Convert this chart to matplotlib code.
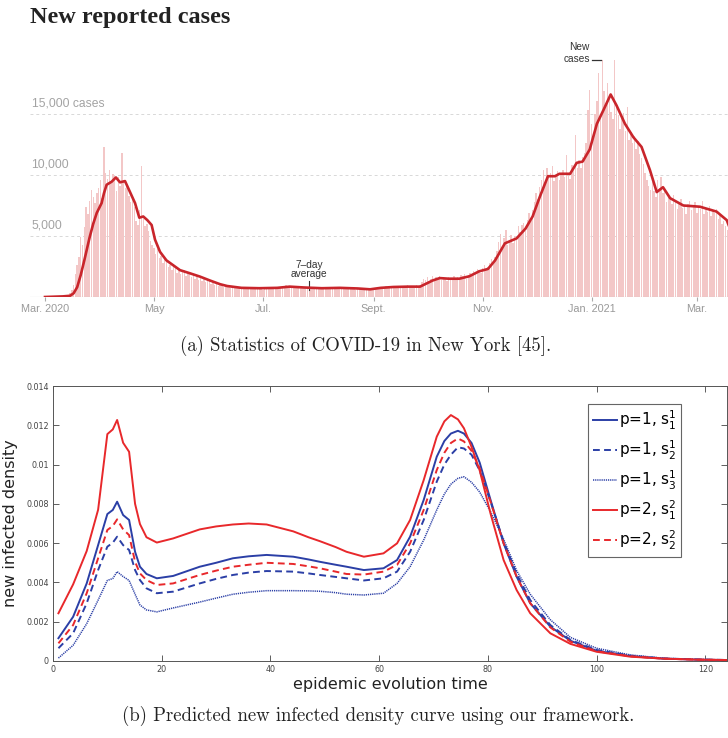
import numpy as np
import pandas as pd
import matplotlib
matplotlib.use("Agg")
import matplotlib.pyplot as plt

# ---------------- panel (a): NYT new reported cases (thousands) ----------------
start = pd.Timestamp("2020-03-01")

daily_k = [
    0.0, 0.0, 0.0, 0.0, 0.0, 0.01, 0.01, 0.02, 0.03, 0.05,
    0.08, 0.1, 0.15, 0.2, 0.35, 0.6, 1.0, 1.9, 2.6, 3.3,
    4.9, 4.3, 5.7, 7.4, 6.8, 7.9, 8.8, 8.2, 7.7, 8.5,
    8.9, 9.6, 8.1, 12.3, 10.2, 9.7, 10.4, 9.5, 10.1, 9.9,
    8.7, 9.8, 9.1, 11.8, 9.6, 8.9, 9.2, 8.3, 7.8, 8.1,
    7.4, 6.2, 5.9, 7.1, 10.7, 6.4, 5.8, 6.0, 5.4, 4.6,
    4.3, 4.0, 3.5, 3.9, 3.2, 3.4, 2.8, 3.1, 2.9, 2.5,
    2.6, 2.2, 2.7, 2.4, 2.0, 2.3, 1.9, 2.1, 2.2, 1.7,
    1.9, 2.0, 1.6, 1.8, 1.5, 1.7, 1.4, 1.6, 1.3, 1.5,
    1.2, 1.4, 1.3, 1.1, 1.2, 1.0, 1.1, 0.9, 1.0, 0.95,
    0.85, 0.9, 0.8, 0.85, 0.75, 0.8, 0.7, 0.85, 0.75, 0.7,
    0.8, 0.7, 0.75, 0.65, 0.8, 0.7, 0.75, 0.7, 0.65, 0.8,
    0.7, 0.75, 0.6, 0.8, 0.7, 0.75, 0.65, 0.8, 0.75, 0.7,
    0.8, 0.85, 0.75, 0.9, 0.8, 0.95, 0.85, 0.9, 0.8, 0.85,
    0.8, 0.75, 0.85, 0.7, 0.8, 0.75, 0.7, 0.8, 0.75, 0.7,
    0.75, 0.7, 0.65, 0.8, 0.7, 0.75, 0.7, 0.65, 0.75, 0.7,
    0.8, 0.7, 0.75, 0.7, 0.8, 0.75, 0.7, 0.8, 0.7, 0.75,
    0.7, 0.65, 0.75, 0.7, 0.6, 0.7, 0.65, 0.6, 0.7, 0.6,
    0.65, 0.6, 0.55, 0.7, 0.65, 0.7, 0.75, 0.8, 0.7, 0.85,
    0.8, 0.9, 0.75, 0.85, 0.9, 0.8, 0.85, 0.9, 0.8, 0.85,
    0.9, 0.85, 0.8, 0.95, 0.85, 0.9, 0.8, 0.85, 0.95, 0.9,
    1.0, 1.2, 1.5, 1.4, 1.6, 1.3, 1.5, 1.7, 1.4, 1.6,
    1.5, 1.7, 1.4, 1.6, 1.5, 1.3, 1.6, 1.5, 1.4, 1.7,
    1.5, 1.6, 1.4, 1.8, 1.7, 1.9, 1.5, 1.8, 2.0, 1.7,
    2.1, 1.9, 2.3, 2.2, 2.0, 2.4, 2.6, 2.2, 2.5, 2.8,
    3.1, 2.7, 3.3, 3.8, 4.5, 5.2, 4.1, 4.8, 5.5, 4.3,
    4.6, 5.1, 4.4, 5.0, 4.7, 5.8, 5.3, 5.9, 6.1, 5.4,
    6.3, 6.9, 6.2, 7.1, 7.8, 8.5, 8.0, 9.0, 9.6, 10.4,
    9.2, 10.6, 9.8, 10.2, 10.7, 9.5, 9.9, 10.3, 9.6, 10.1,
    10.4, 9.8, 11.6, 10.2, 9.7, 10.8, 10.5, 13.3, 10.6, 11.2,
    10.6, 11.5, 11.8, 12.6, 15.3, 17.0, 14.2, 13.0, 15.0, 16.1,
    18.4, 14.8, 19.4, 16.9, 15.8, 17.5, 16.4, 15.2, 14.6, 19.4,
    15.8, 14.9, 13.8, 14.7, 15.1, 13.6, 15.6, 12.9, 13.5, 12.6,
    13.2, 12.1, 12.8, 11.7, 11.4, 10.9, 10.2, 9.6, 9.1, 8.8,
    9.4, 8.7, 8.2, 9.6, 8.9, 9.8, 8.5, 8.9, 7.8, 8.3,
    8.1, 7.6, 8.4, 7.9, 7.2, 7.7, 8.0, 7.3, 7.5, 6.8,
    7.6, 7.9, 7.1, 7.4, 7.8, 6.9, 7.5, 7.2, 7.9, 6.8,
    7.3, 7.0, 7.5, 6.6, 7.1, 6.9, 7.2, 6.4, 6.8, 6.0,
    6.2, 5.8, 5.5,
]

avg_day = [0, 10, 14, 16, 18, 20, 22, 25, 27, 29, 31.7, 33, 34.5, 37.3, 39.7, 42,
           44.8, 47.6, 50.4, 52.8, 55, 57.3, 59.7, 61.6, 64.4, 68, 71.8, 75.6, 81,
           86.8, 92.4, 98, 102, 110, 120, 130, 137, 145, 155, 165, 175, 182, 188,
           195, 203, 210, 217, 221, 226, 232, 237.6, 243, 248, 252, 257.5, 264, 269,
           273, 277, 281.6, 285.5, 288, 294, 297.7, 301, 305, 309, 312.6, 316.7,
           320, 324.7, 329.4, 334, 338.7, 342.5, 346, 350, 357.4, 366.7, 376,
           381.7, 383]
avg_k = [0.0, 0.05, 0.1, 0.3, 0.8, 1.8, 3.0, 4.9, 6.0, 6.9, 7.7, 8.5, 9.2, 9.45, 9.8,
         9.4, 9.5, 8.6, 7.7, 6.5, 6.6, 6.3, 5.9, 4.7, 3.7, 3.0, 2.6, 2.2, 1.95,
         1.67, 1.35, 1.05, 0.9, 0.75, 0.72, 0.75, 0.85, 0.78, 0.72, 0.75, 0.7,
         0.63, 0.75, 0.82, 0.85, 0.85, 1.35, 1.55, 1.5, 1.5, 1.7, 2.1, 2.3, 3.0,
         4.4, 4.8, 5.6, 6.6, 8.2, 9.9, 9.9, 10.1, 10.1, 11.0, 11.1, 12.1, 14.2,
         15.3, 16.6, 15.7, 14.2, 13.1, 12.3, 10.4, 8.6, 9.0, 8.1, 7.5, 7.4, 7.0,
         6.3, 5.8]

tick_dates = ["2020-03-01", "2020-05-01", "2020-07-01", "2020-09-01",
              "2020-11-01", "2021-01-01", "2021-03-01"]
tick_labels = ["Mar. 2020", "May", "Jul.", "Sept.", "Nov.", "Jan. 2021", "Mar."]
grid_k = [5, 10, 15]
grid_labels = ["5,000", "10,000", "15,000 cases"]

# ---------------- panel (b): predicted new infected density ----------------
t = [1, 3.7, 6.2, 8.3, 10, 11, 11.8, 12.9, 14, 15.1, 16, 17.2, 19.1, 22.1, 27,
     30, 33.1, 36, 39.3, 44.2, 47, 49.1, 52, 54, 57.2, 60.8, 63.3, 65.7, 68.2,
     70.6, 72, 73.2, 74.5, 75.6, 77, 78.5, 80.5, 82.9, 85.3, 87.8, 91.5, 95.2,
     100, 106.2, 112.3, 118.4, 124]
p1_s1 = [0.00116, 0.00225, 0.00395, 0.0059, 0.00748, 0.00769, 0.00811, 0.00743,
         0.00718, 0.00556, 0.0048, 0.00443, 0.00421, 0.00433, 0.0048,
         0.0050, 0.00523, 0.00533, 0.0054, 0.00531, 0.00517, 0.00505, 0.0049,
         0.0048, 0.00463, 0.00472, 0.00514, 0.00633, 0.0082,
         0.0104, 0.0112, 0.01158, 0.01172, 0.01158, 0.0111, 0.0101,
         0.0082, 0.00599, 0.00429, 0.00294, 0.00175, 0.00103, 0.00052, 0.00025,
         0.00012, 0.00007, 0.00005]
p1_s2 = [0.00065, 0.00141, 0.00294, 0.00463, 0.00582, 0.00602, 0.00633, 0.0059,
         0.00565, 0.00463, 0.00412, 0.0037, 0.00345, 0.00353, 0.00395,
         0.00418, 0.00438, 0.0045, 0.00458, 0.00455, 0.00446, 0.00438, 0.00428,
         0.00421, 0.0041, 0.00421, 0.00455, 0.00556, 0.00718,
         0.00913, 0.0100, 0.0105, 0.01088, 0.01082, 0.0105, 0.0097,
         0.00811, 0.00607, 0.00443, 0.0031, 0.00183, 0.00107, 0.00056, 0.00027,
         0.00013, 0.00008, 0.00005]
p1_s3 = [0.00015, 0.0008, 0.0019, 0.0031, 0.0041, 0.0042, 0.00455, 0.0043,
         0.0041, 0.0034, 0.00285, 0.0026, 0.0025, 0.0027, 0.0030,
         0.0032, 0.0034, 0.0035, 0.00358, 0.00358, 0.00357, 0.00355, 0.00348,
         0.0034, 0.00336, 0.00345, 0.00395, 0.0048, 0.00616,
         0.00769, 0.0085, 0.0090, 0.0093, 0.00938, 0.0091, 0.0086,
         0.0076, 0.0062, 0.0046, 0.0034, 0.0021, 0.0012, 0.00065, 0.00031,
         0.00014, 0.00008, 0.00005]
p2_s1 = [0.00243, 0.0039, 0.0056, 0.0077, 0.01155, 0.01179, 0.01227, 0.01111,
         0.01065, 0.0080, 0.00697, 0.0063, 0.00603, 0.00624, 0.0067,
         0.00685, 0.00695, 0.0070, 0.00695, 0.0066, 0.0063, 0.0061, 0.0058,
         0.00556, 0.00531, 0.00548, 0.00599, 0.00718, 0.00921,
         0.01142, 0.0122, 0.01252, 0.0123, 0.01185, 0.0109, 0.0097,
         0.0075, 0.00514, 0.00361, 0.00243, 0.00141, 0.00087, 0.00047, 0.00022,
         0.00012, 0.00007, 0.00005]
p2_s2 = [0.0009, 0.00183, 0.00345, 0.00523, 0.00667, 0.00687, 0.00721, 0.0067,
         0.00641, 0.00505, 0.00446, 0.00412, 0.00387, 0.00395, 0.00438,
         0.0046, 0.0048, 0.0049, 0.005, 0.00494, 0.00482, 0.00472, 0.00455,
         0.00443, 0.0044, 0.00455, 0.00489, 0.00599, 0.00769,
         0.00972, 0.0106, 0.0111, 0.01133, 0.01118, 0.0107, 0.0098,
         0.00811, 0.00599, 0.00429, 0.00294, 0.00171, 0.00098, 0.0005, 0.00024,
         0.00012, 0.00007, 0.00005]

BLUE = "#2b3fa6"
RED = "#e8282b"

W, H = 728, 738
fig = plt.figure(figsize=(W / 100, H / 100), dpi=100)


def box(x0, y0, x1, y1):
    # pixel box (top-left origin) -> figure fraction rect
    return [x0 / W, 1 - y1 / H, (x1 - x0) / W, (y1 - y0) / H]


# ---- (a) ----
ax1 = fig.add_axes(box(30, 47, 728, 297))
days = np.arange(len(daily_k))
ax1.bar(days, daily_k, width=0.8, color="#f3c7c7", linewidth=0, zorder=1)
ax1.plot(avg_day, avg_k, color="#c9252b", lw=1.9, zorder=3, solid_joinstyle="round")
ax1.set_xlim(-8.4, 382.4)
ax1.set_ylim(0, 250 / 61 * 5)
for s in ax1.spines.values():
    s.set_visible(False)
ax1.axhline(0, color="#bbbbbb", lw=0.8, zorder=2)
for g, lab in zip(grid_k, grid_labels):
    ax1.axhline(g, color="#d8d8d8", lw=0.7, ls=(0, (3, 3)), zorder=0)
    ax1.text(-7.5, g + 0.35, lab, color="#a3a3a3", fontsize=8.7,
             family="Liberation Sans", ha="left", va="bottom")
tick_pos = [(pd.Timestamp(d) - start).days for d in tick_dates]
ax1.set_xticks(tick_pos)
ax1.set_xticklabels(tick_labels, color="#999999", fontsize=7.8, family="Liberation Sans")
ax1.tick_params(axis="x", length=3, color="#aaaaaa", pad=2)
ax1.set_yticks([])
ax1.patch.set_alpha(0)

# annotations
ann_day = (309 - 45) / 1.786
ax1.text(ann_day, 1.45, "7\u2013day\naverage", ha="center", va="bottom",
         fontsize=7.3, color="#333333", family="Liberation Sans", linespacing=0.95)
ax1.plot([ann_day, ann_day], [0.55, 1.3], color="#333333", lw=0.8)
fig.text(590 / W, 1 - 47.5 / H, "New", ha="right", va="center", fontsize=7.3,
         color="#333333", family="Liberation Sans")
fig.text(590 / W, 1 - 59.5 / H, "cases", ha="right", va="center", fontsize=7.3,
         color="#333333", family="Liberation Sans")
fig.add_artist(plt.Line2D([592 / W, 601 / W], [1 - 59.5 / H, 1 - 59.5 / H],
                          color="#333333", lw=0.9))

fig.text(30 / W, 1 - 18 / H, "New reported cases", ha="left", va="center",
         fontsize=17.5, fontweight="bold", family="Liberation Serif", color="#222222")

fig.text(366 / W, 1 - 346 / H, "(a) Statistics of COVID-19 in New York [45].",
         ha="center", va="center", fontsize=13.5, family=["cmr10", "DejaVu Serif"],
         color="#222222")

# ---- (b) ----
ax2 = fig.add_axes(box(53, 386, 727, 661))
ax2.plot(t, p1_s1, color=BLUE, lw=1.4, label=r"p=1, $\mathregular{s_1^1}$")
ax2.plot(t, p1_s2, color=BLUE, lw=1.4, ls=(0, (3.5, 2.2)), label=r"p=1, $\mathregular{s_2^1}$")
ax2.plot(t, p1_s3, color=BLUE, lw=1.1, ls=(0, (0.8, 0.6)), label=r"p=1, $\mathregular{s_3^1}$")
ax2.plot(t, p2_s1, color=RED, lw=1.4, label=r"p=2, $\mathregular{s_1^2}$")
ax2.plot(t, p2_s2, color=RED, lw=1.4, ls=(0, (3.5, 2.2)), label=r"p=2, $\mathregular{s_2^2}$")
ax2.set_xlim(0, 124)
ax2.set_ylim(0, 0.014)
ax2.set_xticks([0, 20, 40, 60, 80, 100, 120])
ax2.set_xticklabels(["0", "20", "40", "60", "80", "100", "120"])
ax2.set_yticks([0, 0.002, 0.004, 0.006, 0.008, 0.01, 0.012, 0.014])
ax2.set_yticklabels(["0", "0.002", "0.004", "0.006", "0.008", "0.01", "0.012", "0.014"])
ax2.tick_params(direction="in", length=4, width=0.6, top=True, right=True,
                labelsize=5.8, labelcolor="#444444", color="#444444", pad=3)
for s in ax2.spines.values():
    s.set_color("#555555")
    s.set_linewidth(0.7)
ax2.set_ylabel("new infected density", fontsize=11.5, color="#222222", labelpad=6)
ax2.set_xlabel("epidemic evolution time", fontsize=11.5, color="#222222", labelpad=2)
leg = ax2.legend(loc="upper left", bbox_to_anchor=(588 / W, 1 - 404 / H),
                 bbox_transform=fig.transFigure, borderaxespad=0, fancybox=False,
                 edgecolor="#666666", framealpha=1, fontsize=11, handlelength=1.6,
                 handletextpad=0.1, labelspacing=0.45, borderpad=0.3)
leg.get_frame().set_linewidth(0.8)

fig.text(378 / W, 1 - 716 / H,
         "(b) Predicted new infected density curve using our framework.",
         ha="center", va="center", fontsize=13.5, family=["cmr10", "DejaVu Serif"],
         color="#222222")

fig.savefig("out.png", dpi=100)
